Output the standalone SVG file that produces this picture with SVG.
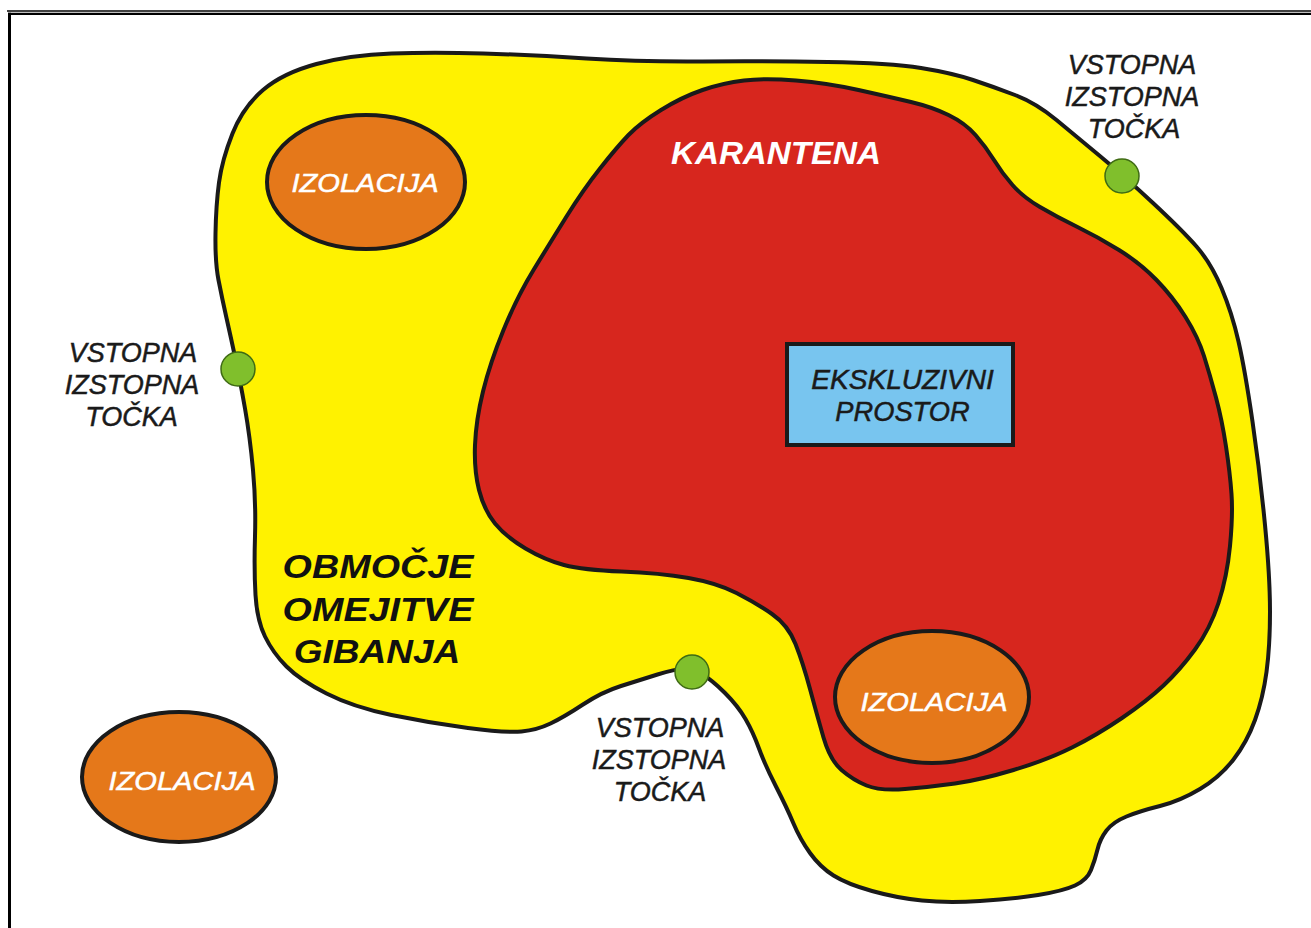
<svg xmlns="http://www.w3.org/2000/svg" width="1311" height="928" viewBox="0 0 1311 928">
<style>
.zone{stroke:#1a1a1a;stroke-width:4;stroke-linejoin:round}
.iso{fill:#E5781A;stroke:#1a1a1a;stroke-width:4}
.isot{font-family:"Liberation Sans",Arial,sans-serif;font-style:italic;font-size:26px;fill:#ffffff;stroke:#ffffff;stroke-width:0.5;text-anchor:middle}
.pt{fill:#80BF2C;stroke:#3f6b14;stroke-width:1.5}
.lbl{font-family:"Liberation Sans",Arial,sans-serif;font-style:italic;font-size:27px;fill:#1a1a1a;stroke:#1a1a1a;stroke-width:0.5;text-anchor:middle}
.big{font-family:"Liberation Sans",Arial,sans-serif;font-style:italic;font-weight:bold;font-size:34px;fill:#111;text-anchor:middle}
</style>
<rect width="1311" height="928" fill="#ffffff"/>
<g id="frame" stroke="#000" fill="none">
<line x1="7" y1="11" x2="1311" y2="11" stroke-width="1.5"/>
<line x1="8" y1="13.9" x2="1311" y2="13.9" stroke-width="2.4"/>
<line x1="9.5" y1="12.7" x2="9.5" y2="928" stroke-width="3"/>
</g>
<g id="zone-omejitev">
<path class="zone" fill="#FFF200" d="M218.5,280 Q215,262 215.5,233.5 Q216,205 219,182.5 Q222,160 232.5,133.5 Q243,107 263,90 Q283,73 316.5,64 Q350,55 391.5,53.5 Q433,52 483,53.5 Q533,55 586.5,58.5 Q640,62 702.5,61.5 Q765,61 827.5,62 Q890,63 921,68 Q952,73 973,80 Q994,87 1015,95 Q1036,103 1056.5,120 Q1077,137 1100.5,156.5 Q1124,176 1153,203 Q1182,230 1196.5,246.5 Q1211,263 1221.5,288 Q1232,313 1238.5,341.5 Q1245,370 1252.5,421.5 Q1260,473 1265,525 Q1270,577 1270,611.5 Q1270,646 1266.5,672 Q1263,698 1255,720 Q1247,742 1233.5,759.5 Q1220,777 1200,789 Q1180,801 1160,806 Q1140,811 1126.5,816.5 Q1113,822 1106.5,830.5 Q1100,839 1097.5,849.5 Q1095,860 1091,870 Q1087,880 1075,885.5 Q1063,891 1038,895 Q1013,899 980,901 Q947,903 922,900.5 Q897,898 872,891 Q847,884 833.5,875.5 Q820,867 810,853 Q800,839 793.5,823.5 Q787,808 776,786.5 Q765,765 759,748.5 Q753,732 745.5,719 Q738,706 725,693 Q712,680 702.5,674.5 Q693,669 684,669 Q675,669 657.5,674.5 Q640,680 621,686 Q602,692 583,704.5 Q564,717 550.5,723.5 Q537,730 521.5,731.5 Q506,733 468,728 Q430,723 391.5,715 Q353,707 326.5,693.5 Q300,680 286.5,666.5 Q273,653 265,636.5 Q257,620 255.5,595 Q254,570 255,536.5 Q256,503 253,470 Q250,437 245,408.5 Q240,380 235.5,359 Q231,338 226.5,318 Q222,298 218.5,280 Z"/>
<text class="big" transform="translate(378,578) scale(1.11,1)">OBMOČJE</text>
<text class="big" transform="translate(378,621) scale(1.11,1)">OMEJITVE</text>
<text class="big" transform="translate(377,663) scale(1.09,1)">GIBANJA</text>
</g>
<g id="zone-karantena">
<path class="zone" fill="#D7261E" d="M628.5,135 Q640,123 661,110 Q682,97 702.5,90 Q723,83 744,80.5 Q765,78 796,80.5 Q827,83 858.5,90 Q890,97 911,102 Q932,107 948.5,115 Q965,123 975.5,135 Q986,147 994,160 Q1002,173 1012.5,185 Q1023,197 1040,207 Q1057,217 1077.5,227 Q1098,237 1119,250 Q1140,263 1156.5,280 Q1173,297 1185.5,317 Q1198,337 1204,356 Q1210,375 1216,397.5 Q1222,420 1226,446.5 Q1230,473 1231.5,494 Q1233,515 1230,546 Q1227,577 1218.5,603 Q1210,629 1195,649.5 Q1180,670 1163.5,685.5 Q1147,701 1122,718 Q1097,735 1072,747.5 Q1047,760 1013.5,770 Q980,780 955,783.5 Q930,787 905,789 Q880,791 866.5,785.5 Q853,780 841.5,770 Q830,760 823.5,737.5 Q817,715 810,689 Q803,663 795.5,644 Q788,625 772,614 Q756,603 736.5,593 Q717,583 688.5,578 Q660,573 621.5,571.5 Q583,570 564,565 Q545,560 525.5,548.5 Q506,537 495,523.5 Q484,510 479,490 Q474,470 475,445 Q476,420 483,391.5 Q490,363 503.5,330 Q517,297 533.5,270 Q550,243 566.5,216.5 Q583,190 600,168.5 Q617,147 628.5,135 Z"/>
<text transform="translate(776,164) scale(1.07,1)" font-family="'Liberation Sans',Arial,sans-serif" font-style="italic" font-weight="bold" font-size="31" fill="#ffffff" text-anchor="middle">KARANTENA</text>
</g>
<g id="ekskluzivni-prostor">
<rect x="787" y="344" width="226" height="101" fill="#78C5EF" stroke="#1a1a1a" stroke-width="4"/>
<text class="lbl" font-size="28" transform="translate(902.5,389) scale(1.04,1)">EKSKLUZIVNI</text>
<text class="lbl" font-size="28" transform="translate(902.5,421) scale(1.01,1)">PROSTOR</text>
</g>
<g id="izolacija-1">
<ellipse class="iso" cx="366" cy="182" rx="99" ry="67"/>
<text class="isot" transform="translate(365,192) scale(1.12,1)">IZOLACIJA</text>
</g>
<g id="izolacija-2">
<ellipse class="iso" cx="179" cy="777" rx="97" ry="65"/>
<text class="isot" transform="translate(182,790) scale(1.12,1)">IZOLACIJA</text>
</g>
<g id="izolacija-3">
<ellipse class="iso" cx="932" cy="697" rx="97" ry="66"/>
<text class="isot" transform="translate(934,711) scale(1.12,1)">IZOLACIJA</text>
</g>
<g id="tocka-levo">
<circle class="pt" cx="238" cy="369" r="17"/>
<text class="lbl" x="133" y="362">VSTOPNA</text>
<text class="lbl" x="132" y="394">IZSTOPNA</text>
<text class="lbl" x="131.5" y="426">TOČKA</text>
</g>
<g id="tocka-desno">
<circle class="pt" cx="1122" cy="176" r="17"/>
<text class="lbl" x="1132" y="74">VSTOPNA</text>
<text class="lbl" x="1132" y="106">IZSTOPNA</text>
<text class="lbl" x="1134" y="138">TOČKA</text>
</g>
<g id="tocka-spodaj">
<circle class="pt" cx="692" cy="672" r="17"/>
<text class="lbl" x="660" y="737">VSTOPNA</text>
<text class="lbl" x="659" y="769">IZSTOPNA</text>
<text class="lbl" x="660" y="801">TOČKA</text>
</g>
<g id="connectors"/>
</svg>
